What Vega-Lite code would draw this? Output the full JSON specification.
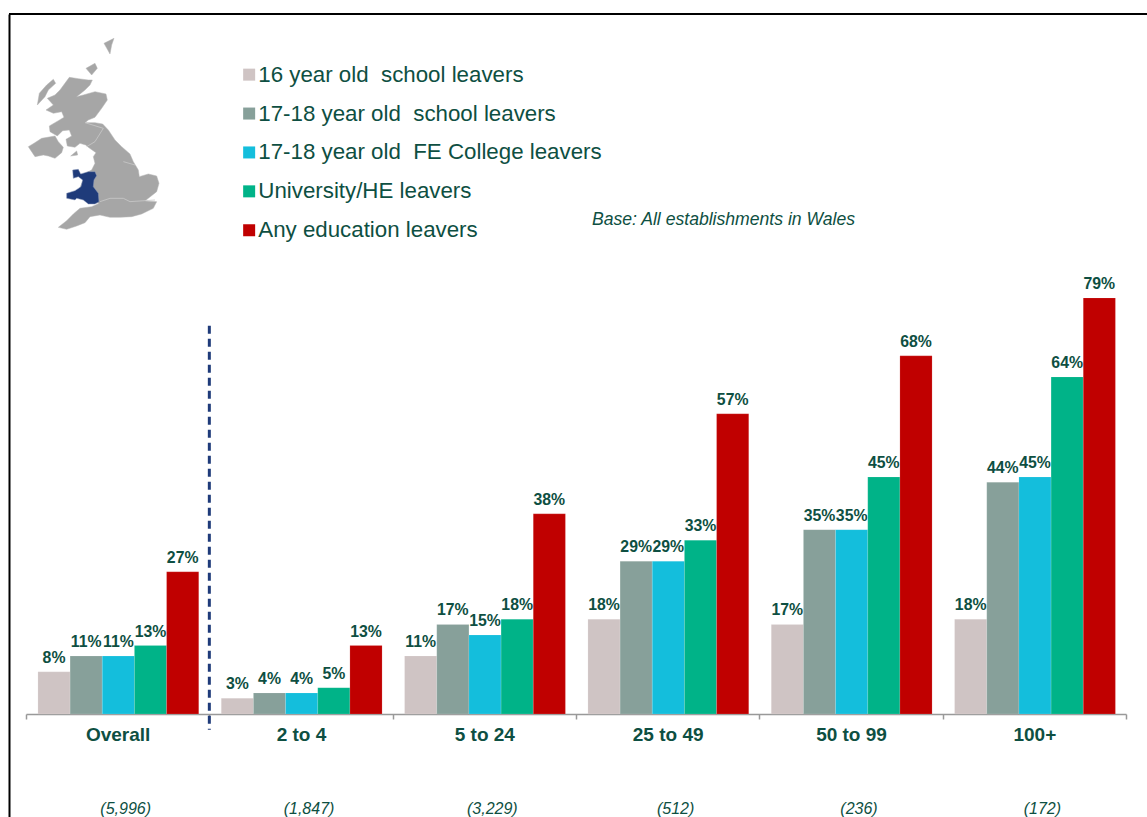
{
"$schema":"https://vega.github.io/schema/vega-lite/v6.json",
"width":1138,"height":803,"autosize":{"type":"none"},
"padding":{"left":9,"top":14,"right":0,"bottom":0},
"background":"white",
"config":{"view":{"stroke":null},"font":"Liberation Sans"},
"title":{"text":"Base: All establishments in Wales","anchor":"start","frame":"group","dx":583,"dy":216,"offset":0,"font":"Liberation Sans","fontSize":17.6,"fontStyle":"italic","fontWeight":"normal","color":"#0E4F42"},
"datasets":{
"bars":[
{"group":"Overall","series":"16 year old\u00a0 school leavers","value":8,"label":"8%"},
{"group":"Overall","series":"17-18 year old\u00a0 school leavers","value":11,"label":"11%"},
{"group":"Overall","series":"17-18 year old\u00a0 FE College leavers","value":11,"label":"11%"},
{"group":"Overall","series":"University/HE leavers","value":13,"label":"13%"},
{"group":"Overall","series":"Any education leavers","value":27,"label":"27%"},
{"group":"2 to 4","series":"16 year old\u00a0 school leavers","value":3,"label":"3%"},
{"group":"2 to 4","series":"17-18 year old\u00a0 school leavers","value":4,"label":"4%"},
{"group":"2 to 4","series":"17-18 year old\u00a0 FE College leavers","value":4,"label":"4%"},
{"group":"2 to 4","series":"University/HE leavers","value":5,"label":"5%"},
{"group":"2 to 4","series":"Any education leavers","value":13,"label":"13%"},
{"group":"5 to 24","series":"16 year old\u00a0 school leavers","value":11,"label":"11%"},
{"group":"5 to 24","series":"17-18 year old\u00a0 school leavers","value":17,"label":"17%"},
{"group":"5 to 24","series":"17-18 year old\u00a0 FE College leavers","value":15,"label":"15%"},
{"group":"5 to 24","series":"University/HE leavers","value":18,"label":"18%"},
{"group":"5 to 24","series":"Any education leavers","value":38,"label":"38%"},
{"group":"25 to 49","series":"16 year old\u00a0 school leavers","value":18,"label":"18%"},
{"group":"25 to 49","series":"17-18 year old\u00a0 school leavers","value":29,"label":"29%"},
{"group":"25 to 49","series":"17-18 year old\u00a0 FE College leavers","value":29,"label":"29%"},
{"group":"25 to 49","series":"University/HE leavers","value":33,"label":"33%"},
{"group":"25 to 49","series":"Any education leavers","value":57,"label":"57%"},
{"group":"50 to 99","series":"16 year old\u00a0 school leavers","value":17,"label":"17%"},
{"group":"50 to 99","series":"17-18 year old\u00a0 school leavers","value":35,"label":"35%"},
{"group":"50 to 99","series":"17-18 year old\u00a0 FE College leavers","value":35,"label":"35%"},
{"group":"50 to 99","series":"University/HE leavers","value":45,"label":"45%"},
{"group":"50 to 99","series":"Any education leavers","value":68,"label":"68%"},
{"group":"100+","series":"16 year old\u00a0 school leavers","value":18,"label":"18%"},
{"group":"100+","series":"17-18 year old\u00a0 school leavers","value":44,"label":"44%"},
{"group":"100+","series":"17-18 year old\u00a0 FE College leavers","value":45,"label":"45%"},
{"group":"100+","series":"University/HE leavers","value":64,"label":"64%"},
{"group":"100+","series":"Any education leavers","value":79,"label":"79%"}
],
"groups":[
{"group":"Overall","base":"(5,996)"},
{"group":"2 to 4","base":"(1,847)"},
{"group":"5 to 24","base":"(3,229)"},
{"group":"25 to 49","base":"(512)"},
{"group":"50 to 99","base":"(236)"},
{"group":"100+","base":"(172)"}
],
"divider":[{"group":"Overall"}]
},
"layer":[
{"data":{"values":[
{"type":"Feature","properties":{"name":"Great Britain"},"geometry":{"type":"Polygon","coordinates":[[[148,142],[175,146],[205,150],[217,150],[210,165],[195,180],[170,200],[190,195],[225,185],[258,192],[262,210],[245,235],[225,262],[205,270],[195,278],[225,278],[248,282],[265,300],[285,330],[305,350],[330,372],[340,395],[355,420],[358,440],[385,432],[410,438],[417,460],[410,485],[385,505],[375,513],[410,515],[400,535],[365,552],[335,560],[300,562],[270,562],[240,555],[210,560],[195,578],[170,588],[140,598],[115,592],[140,572],[160,552],[180,535],[215,530],[238,520],[200,515],[170,495],[190,450],[195,430],[215,420],[225,400],[220,380],[228,368],[205,352],[197,345],[180,340],[165,352],[142,348],[138,328],[155,318],[148,300],[128,302],[112,318],[90,305],[88,288],[115,272],[132,262],[125,245],[100,250],[78,240],[100,225],[82,205],[105,195],[120,180],[135,170]]]}},
{"type":"Feature","properties":{"name":"Northern Ireland"},"geometry":{"type":"Polygon","coordinates":[[[25,350],[42,340],[65,325],[105,318],[115,335],[130,352],[125,368],[105,385],[85,378],[70,375],[45,380],[25,365]]]}},
{"type":"Feature","properties":{"name":"Hebrides"},"geometry":{"type":"Polygon","coordinates":[[[52,225],[58,190],[80,165],[100,148],[107,160],[85,180],[75,200],[65,228]]]}},
{"type":"Feature","properties":{"name":"Orkney"},"geometry":{"type":"Polygon","coordinates":[[[198,115],[225,100],[232,115],[215,135],[200,130]]]}},
{"type":"Feature","properties":{"name":"Shetland"},"geometry":{"type":"Polygon","coordinates":[[[252,40],[282,25],[275,45],[270,72],[258,60]]]}},
{"type":"Feature","properties":{"name":"Isle of Man"},"geometry":{"type":"Polygon","coordinates":[[[152,378],[170,363],[173,375],[158,383]]]}}
]},
"mark":{"type":"geoshape","fill":"#A6A6A6","stroke":"#B5B5B5","strokeWidth":0.5},
"projection":{"type":"identity","scale":0.3333,"translate":[11,16]}},
{"data":{"values":[
{"type":"Feature","properties":{"name":"Wales"},"geometry":{"type":"Polygon","coordinates":[[[158,420],[175,418],[182,432],[205,425],[225,425],[230,437],[222,450],[220,470],[235,490],[237,515],[225,522],[205,522],[190,510],[170,505],[165,510],[140,505],[140,490],[165,482],[183,470],[188,450],[175,440],[160,445],[165,432]]]}}
]},
"mark":{"type":"geoshape","fill":"#1F3B7A","stroke":"#8C9BBB","strokeWidth":0.5},
"projection":{"type":"identity","scale":0.3333,"translate":[11,16]}},
{"data":{"values":[
{"type":"Feature","properties":{"name":"Scottish border"},"geometry":{"type":"LineString","coordinates":[[195,278],[250,295],[225,335],[200,350]]}},
{"type":"Feature","properties":{"name":"Yorkshire"},"geometry":{"type":"LineString","coordinates":[[310,395],[345,405]]}},
{"type":"Feature","properties":{"name":"South"},"geometry":{"type":"LineString","coordinates":[[240,515],[270,505],[310,505],[330,515],[405,510]]}}
]},
"mark":{"type":"geoshape","filled":false,"stroke":"#C9C9C9","strokeWidth":0.8},
"projection":{"type":"identity","scale":0.3333,"translate":[11,16]}},
{"data":{"name":"bars"},"mark":{"type":"bar","stroke":"#FFFFFF","strokeOpacity":0.25,"strokeWidth":0.5},
"encoding":{
"x":{"field":"group","type":"nominal","scale":{"type":"band","domain":["Overall","2 to 4","5 to 24","25 to 49","50 to 99","100+"],"range":[17,1117],"paddingInner":0,"paddingOuter":0},
"axis":{"title":null,"labelAngle":0,"offset":-103,"domain":true,"domainColor":"#999999","domainWidth":1.5,"ticks":true,"tickBand":"extent","tickColor":"#999999","tickSize":5,"tickWidth":1.5,"labelFont":"Liberation Sans","labelFontSize":19,"labelFontWeight":"bold","labelColor":"#0E4F42","labelPadding":6,"grid":false}},
"xOffset":{"field":"series","type":"nominal","scale":{"domain":["16 year old\u00a0 school leavers","17-18 year old\u00a0 school leavers","17-18 year old\u00a0 FE College leavers","University/HE leavers","Any education leavers"],"paddingInner":0,"paddingOuter":0.35,"align":0.53}},
"y":{"field":"value","type":"quantitative","scale":{"domain":[-19.56,132.9],"nice":false,"zero":false},"axis":{"title":null,"labels":false,"ticks":false,"grid":false,"domain":true,"domainColor":"#000000","domainWidth":2}},
"y2":{"datum":0},
"color":{"field":"series","type":"nominal","scale":{"domain":["16 year old\u00a0 school leavers","17-18 year old\u00a0 school leavers","17-18 year old\u00a0 FE College leavers","University/HE leavers","Any education leavers"],"range":["#CFC4C4","#87A09A","#14BEDC","#00B388","#C00000"]},
"legend":{"title":null,"orient":"none","legendX":229,"legendY":49.5,"symbolType":"square","symbolSize":144,"symbolStrokeWidth":0,"symbolOpacity":1,"labelFont":"Liberation Sans","labelFontSize":22.3,"labelColor":"#0E4F42","labelOffset":-2,"rowPadding":15.9,"labelLimit":500}}
}},
{"data":{"name":"bars"},"mark":{"type":"text","font":"Liberation Sans","fontSize":15.8,"fontWeight":"bold","color":"#0E4F42","baseline":"bottom","dy":-6},
"encoding":{
"x":{"field":"group","type":"nominal"},
"xOffset":{"field":"series","type":"nominal"},
"y":{"field":"value","type":"quantitative"},
"text":{"field":"label","type":"nominal"}
}},
{"data":{"name":"groups"},"mark":{"type":"text","font":"Liberation Sans","fontSize":16,"fontStyle":"italic","color":"#0E4F42","baseline":"middle","dx":8},
"encoding":{
"x":{"field":"group","type":"nominal"},
"y":{"datum":-18},
"text":{"field":"base","type":"nominal"}
}},
{"data":{"name":"divider"},"mark":{"type":"rule","color":"#1F3B7A","strokeWidth":3,"strokeDash":[8,5]},
"encoding":{
"x":{"field":"group","type":"nominal","bandPosition":1},
"y":{"datum":73.7},
"y2":{"datum":-3}
}},
{"data":{"name":"divider"},"mark":{"type":"rule","color":"#000000","strokeWidth":2},
"encoding":{"y":{"datum":132.9}}}
]
}
